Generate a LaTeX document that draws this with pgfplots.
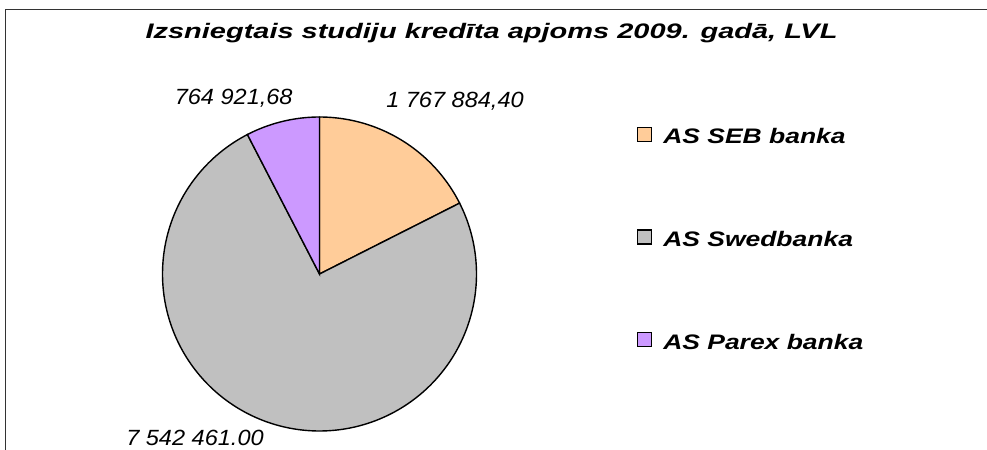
\documentclass[border=0pt]{standalone}
\usepackage{pgfplots}
\usepackage{pgfplotstable}
\pgfplotsset{compat=1.18}
\usepackage{fontspec}
\setmainfont{Liberation Sans}
\newfontfamily\titlefont[FakeStretch=1.38]{Liberation Sans}
\newfontfamily\legfont[FakeStretch=1.26]{Liberation Sans}
\newfontfamily\labfont[FakeStretch=1.07]{Liberation Sans}
\definecolor{sebc}{HTML}{FFCC99}
\definecolor{swedc}{HTML}{C0C0C0}
\definecolor{parexc}{HTML}{CC99FF}
\definecolor{framec}{HTML}{333333}

% values in thousands of LVL
\pgfplotstableread{
name value
SEB 1767.88440
Swed 7542.46100
Parex 764.92168
}\pietable

\begin{document}
\begin{tikzpicture}
\pgfplotstablegetelem{0}{value}\of\pietable \let\va\pgfplotsretval
\pgfplotstablegetelem{1}{value}\of\pietable \let\vb\pgfplotsretval
\pgfplotstablegetelem{2}{value}\of\pietable \let\vc\pgfplotsretval
\pgfmathsetmacro{\tot}{\va+\vb+\vc}
\pgfmathsetmacro{\fa}{\va/\tot}
\pgfmathsetmacro{\fb}{\vb/\tot}
\pgfmathsetmacro{\fc}{\vc/\tot}
\pgfmathsetmacro{\aA}{90}
\pgfmathsetmacro{\aB}{90-360*\fa}
\pgfmathsetmacro{\aC}{\aB-360*\fb}
\pgfmathsetmacro{\aD}{\aC-360*\fc}

\useasboundingbox (0,0) rectangle (987bp,450bp);
\draw[framec, line width=1.6bp] (5.5bp,0) -- (5.5bp,440.5bp) -- (987bp,440.5bp);

\begin{axis}[
  x=157bp, y=157bp,
  xmin=-1.1, xmax=1.1, ymin=-1.1, ymax=1.1,
  hide axis,
  at={(319.5bp,176bp)}, anchor=center,
  clip=false,
  legend image code/.code={\draw[#1, draw=black, line width=1.3bp] (0bp,-3bp) rectangle (14bp,11bp);},
  legend style={draw=none, fill=none, inner sep=0pt, outer sep=0pt,
    at={(1.4192,0.9265)}, anchor=north west,
    column sep=11bp, row sep=81.5bp,
    font=\legfont\bfseries\itshape\fontsize{21bp}{25bp}\selectfont,
    nodes={inner sep=0pt, text height=15bp, text depth=4bp}},
  legend cell align=left,
]
\addplot[fill=sebc, draw=black, line width=1.4bp, domain=\aB:\aA, samples=80, variable=\t]
  ({cos(\t)},{sin(\t)}) -- (axis cs:0,0) -- cycle;
\addlegendentry{AS SEB banka}
\addplot[fill=swedc, draw=black, line width=1.4bp, domain=\aC:\aB, samples=200, variable=\t]
  ({cos(\t)},{sin(\t)}) -- (axis cs:0,0) -- cycle;
\addlegendentry{AS Swedbanka}
\addplot[fill=parexc, draw=black, line width=1.4bp, domain=\aD:\aC, samples=40, variable=\t]
  ({cos(\t)},{sin(\t)}) -- (axis cs:0,0) -- cycle;
\addlegendentry{AS Parex banka}
\end{axis}

\node[anchor=base, inner sep=0pt] at (491.5bp,411bp)
  {\titlefont\bfseries\itshape\fontsize{21bp}{25bp}\selectfont Izsniegtais studiju kredīta apjoms 2009. gadā, LVL};
\node[anchor=base, inner sep=0pt] at (233.7bp,345.7bp)
  {\labfont\itshape\fontsize{22bp}{26bp}\selectfont 764 921,68};
\node[anchor=base, inner sep=0pt] at (455bp,342bp)
  {\labfont\itshape\fontsize{22bp}{26bp}\selectfont 1 767 884,40};
\node[anchor=base, inner sep=0pt] at (195bp,5bp)
  {\labfont\itshape\fontsize{22bp}{26bp}\selectfont 7 542 461.00};
\end{tikzpicture}
\end{document}
